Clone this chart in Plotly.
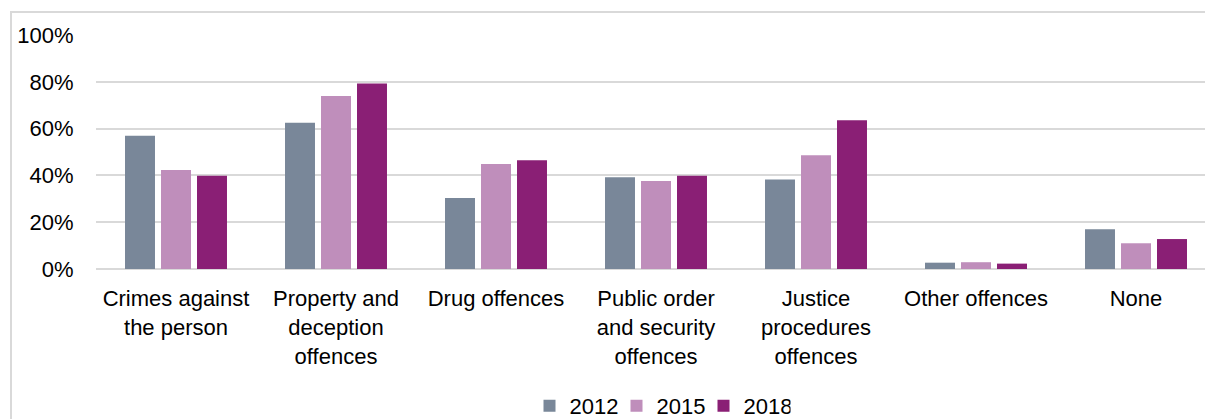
import plotly.graph_objects as go

categories = [
    "Crimes against<br>the person",
    "Property and<br>deception<br>offences",
    "Drug offences",
    "Public order<br>and security<br>offences",
    "Justice<br>procedures<br>offences",
    "Other offences",
    "None",
]
years = ["2012", "2015", "2018"]
values_2012 = [0.569, 0.625, 0.303, 0.392, 0.382, 0.027, 0.170]
values_2015 = [0.423, 0.739, 0.449, 0.376, 0.486, 0.029, 0.110]
values_2018 = [0.398, 0.793, 0.465, 0.398, 0.636, 0.023, 0.128]
colors = ["#798799", "#BF8EBB", "#8A1F75"]

OFF = 8  # page body margin offset
W, H = 1213 - OFF, 419 - OFF
L, R, T = 96 - OFF, 0, 35 - OFF
B = H - (269 - OFF)
FONT = "Liberation Sans, Arial, sans-serif"
FS = 22

fig = go.Figure()
for name, vals, col in zip(years, [values_2012, values_2015, values_2018], colors):
    fig.add_trace(go.Bar(name=name, x=categories, y=vals, marker=dict(color=col, line=dict(width=0))))

plot_w = W - L - R
plot_h = H - T - B
ncat = plot_w / 160.0
fig.update_layout(
    width=W, height=H,
    margin=dict(l=L, r=R, t=T, b=B, pad=0, autoexpand=False),
    paper_bgcolor="white", plot_bgcolor="white",
    barmode="group", bargap=0.325, bargroupgap=0.167,
    font=dict(family=FONT, size=FS, color="#000000"),
    showlegend=True,
    legend=dict(orientation="h", xref="container", yref="container",
                x=(660 - OFF) / W, xanchor="center", y=(H - (406 - OFF)) / H, yanchor="middle",
                font=dict(size=FS), itemwidth=30, traceorder="normal", entrywidth=42),
    xaxis=dict(range=[-0.5, -0.5 + ncat], showgrid=False, showline=False, zeroline=False,
               ticks="outside", ticklen=10, tickcolor="rgba(0,0,0,0)",
               tickfont=dict(size=FS)),
    yaxis=dict(range=[0, 1.0], dtick=0.2, tickformat=".0%", showgrid=True,
               gridcolor="#d9d9d9", gridwidth=1.5, zeroline=True, zerolinecolor="#d9d9d9",
               zerolinewidth=1.5, showline=False, ticks="outside", ticklen=17,
               tickcolor="rgba(0,0,0,0)", tickfont=dict(size=FS)),
    shapes=[dict(type="rect", xref="paper", yref="paper",
                 x0=(11 - 96) / plot_w, x1=(1240 - 96) / plot_w,
                 y0=-(440 - 269) / plot_h, y1=(269 - 12) / plot_h,
                 line=dict(color="#d9d9d9", width=2), fillcolor="rgba(0,0,0,0)", layer="below")],
)
fig.write_html("out.html")
